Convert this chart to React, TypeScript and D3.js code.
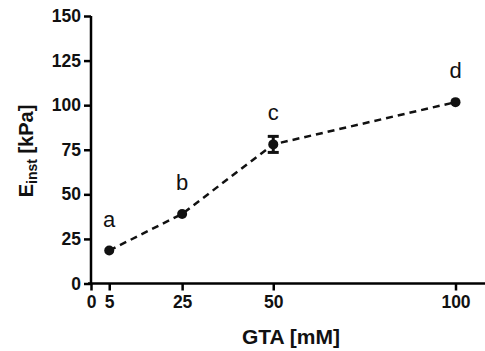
import React, { useEffect, useRef } from "react";
import * as d3 from "d3";

const gta = [5, 25, 50, 100];
const einst = [18.5, 39, 78, 101.7];
const errs = [0.8, 0.8, 4.5, 0.8];
const letters = ["a", "b", "c", "d"];
const xTicks = [0, 5, 25, 50, 100];
const yTicks = [0, 25, 50, 75, 100, 125, 150];

export default function App() {
  const ref = useRef<SVGSVGElement>(null);
  useEffect(() => {
    const svg = d3.select(ref.current);
    svg.selectAll("*").remove();
    const x = d3.scaleLinear().domain([0, 100]).range([91, 455.5]);
    const y = d3.scaleLinear().domain([0, 150]).range([283.5, 16]);
    const font = "Liberation Sans, Arial, sans-serif";

    const yAxis = svg.append("g").attr("transform", `translate(${x(0)},0)`)
      .call(d3.axisLeft(y).tickValues(yTicks).tickSize(7).tickPadding(3).tickFormat(d3.format("d")));
    yAxis.select(".domain").attr("stroke-width", 2.5).attr("d", `M0,${y(150)}V${y(0) + 1}`);
    yAxis.selectAll(".tick line").attr("stroke-width", 2.5);
    yAxis.selectAll("text").attr("font-family", font).attr("font-weight", "bold").attr("font-size", 17.5).attr("fill", "#111");

    const xAxis = svg.append("g").attr("transform", `translate(0,${y(0)})`)
      .call(d3.axisBottom(x).tickValues(xTicks).tickSize(7).tickPadding(5).tickFormat(d3.format("d")));
    xAxis.select(".domain").attr("stroke-width", 2.5).attr("d", `M${x(0) - 3},0H485`);
    xAxis.selectAll(".tick line").attr("stroke-width", 2.5);
    xAxis.selectAll("text").attr("font-family", font).attr("font-weight", "bold").attr("font-size", 17.5).attr("fill", "#111");

    const pts = gta.map((g, i) => ({ g, v: einst[i], e: errs[i], l: letters[i] }));
    const line = d3.line<any>().x(d => x(d.g)).y(d => y(d.v));
    svg.append("path").datum(pts).attr("d", line).attr("fill", "none").attr("stroke", "#111")
      .attr("stroke-width", 2.5).attr("stroke-dasharray", "7,5");

    pts.filter(d => d.e > 1).forEach(d => {
      const g = svg.append("g").attr("stroke", "#111").attr("stroke-width", 3);
      g.append("line").attr("x1", x(d.g)).attr("x2", x(d.g)).attr("y1", y(d.v + d.e)).attr("y2", y(d.v - d.e));
      g.append("line").attr("x1", x(d.g) - 5.5).attr("x2", x(d.g) + 5.5).attr("y1", y(d.v + d.e)).attr("y2", y(d.v + d.e));
      g.append("line").attr("x1", x(d.g) - 5.5).attr("x2", x(d.g) + 5.5).attr("y1", y(d.v - d.e)).attr("y2", y(d.v - d.e));
    });

    svg.selectAll("circle.pt").data(pts).enter().append("circle")
      .attr("cx", d => x(d.g)).attr("cy", d => y(d.v)).attr("r", 5).attr("fill", "#111");

    svg.selectAll("text.lbl").data(pts).enter().append("text")
      .attr("x", d => x(d.g)).attr("y", d => y(d.v) - 24).attr("text-anchor", "middle")
      .attr("font-family", font).attr("font-size", 22).attr("fill", "#111").text(d => d.l);

    svg.append("text").attr("x", 291).attr("y", 344).attr("text-anchor", "middle")
      .attr("font-family", font).attr("font-weight", "bold").attr("font-size", 21).attr("fill", "#111")
      .text("GTA [mM]");

    const yt = svg.append("text").attr("transform", "translate(33,151) rotate(-90)").attr("text-anchor", "middle")
      .attr("font-family", font).attr("font-weight", "bold").attr("font-size", 20).attr("fill", "#111");
    yt.append("tspan").text("E");
    yt.append("tspan").attr("font-size", 14).attr("dy", 4).text("inst");
    yt.append("tspan").attr("dy", -4).text(" [kPa]");
  }, []);
  return (
    <div style={{ position: "absolute", left: 0, top: 0 }}>
      <svg ref={ref} width={485} height={351} style={{ display: "block", background: "#fff" }} />
    </div>
  );
}
